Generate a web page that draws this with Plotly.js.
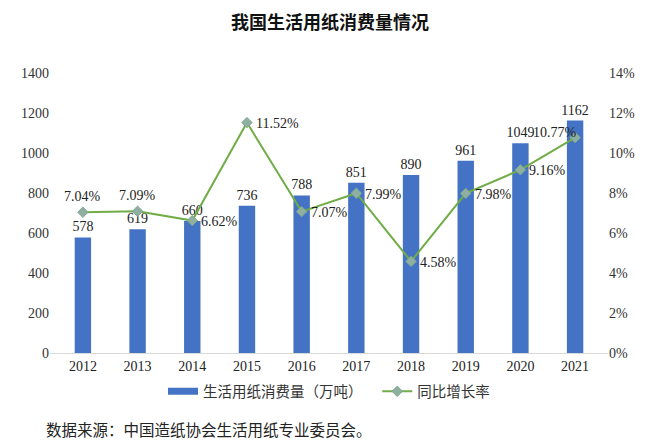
<!DOCTYPE html>
<html><head><meta charset="utf-8">
<script src="https://cdn.plot.ly/plotly-3.0.1.min.js"></script>
<style>html,body{margin:0;padding:0;background:#fff}#c{width:660px;height:448px}</style>
</head><body><div id="c"></div>
<script>
var years = ['2012','2013','2014','2015','2016','2017','2018','2019','2020','2021'];
var consumption = [578, 619, 660, 736, 788, 851, 890, 961, 1049, 1162];
var growth = [0.0704, 0.0709, 0.0662, 0.1152, 0.0707, 0.0799, 0.0458, 0.0798, 0.0916, 0.1077];
var growthLabelPos = ['top','top','right','right','right','right','right','right','right','left'];
var leftTicks = [0,200,400,600,800,1000,1200,1400];
var rightTicks = [0,0.02,0.04,0.06,0.08,0.10,0.12,0.14];

var serif = 'Liberation Serif, Times New Roman, serif';
var cjk = 'Noto Sans CJK SC, sans-serif';

var bars = {
  type:'bar', x: years, y: consumption, name:'生活用纸消费量（万吨）',
  marker:{color:'#4472c4'}, showlegend:false,
  text: consumption.map(String), textposition:'outside', cliponaxis:false, constraintext:'none',
  textfont:{family:serif, size:14, color:'#222'}
};
var barLegend = {
  type:'scatter', mode:'lines', x:[years[0]], y:[null], name:'生活用纸消费量（万吨）\u00a0\u00a0\u00a0',
  line:{color:'#4472c4', width:7}, hoverinfo:'skip'
};
var line = {
  type:'scatter', mode:'lines+markers', x: years, y: growth, yaxis:'y2',
  name:'同比增长率', cliponaxis:false,
  line:{color:'#70ad47', width:2},
  marker:{symbol:'diamond', size:8, color:'#8fb0a0', line:{color:'#7fa890', width:1}}
};
var annots = growth.map(function(v,i){
  var p = growthLabelPos[i];
  var a = {x:i, y:v, xref:'x', yref:'y2', text:(v*100).toFixed(2)+'%', showarrow:false,
           font:{family:serif, size:14, color:'#222'}};
  if(p==='top'){a.xanchor='center'; a.yanchor='bottom'; a.yshift=6;}
  else if(p==='right'){a.xanchor='left'; a.yanchor='middle'; a.xshift=7; a.yshift=-1;}
  else {a.xanchor='right'; a.yanchor='middle'; a.xshift=4; a.yshift=5;}
  return a;
});
annots.push({
  text:'数据来源：中国造纸协会生活用纸专业委员会。', xref:'paper', yref:'paper',
  x:-0.01, xanchor:'left', y:-0.27, yanchor:'middle', showarrow:false,
  font:{family:cjk, size:15.5, color:'#222'}
});
var layout = {
  width:660, height:448,
  margin:{l:50, r:52, t:73, b:95, autoexpand:false},
  paper_bgcolor:'#fff', plot_bgcolor:'#fff',
  title:{text:'<b>我国生活用纸消费量情况</b>', x:0.5, xanchor:'center', y:0.95, yanchor:'middle',
         font:{family:cjk, size:18, color:'#111'}},
  bargap:0.7,
  showlegend:true,
  legend:{orientation:'h', x:0.5, xanchor:'center', y:-0.08, yanchor:'top',
          font:{family:cjk, size:14.5, color:'#333'}, traceorder:'normal', itemwidth:30},
  xaxis:{type:'category', categoryorder:'array', categoryarray:years,
         showline:true, linecolor:'#d9d9d9', linewidth:1, ticks:'',
         tickfont:{family:serif, size:14, color:'#222'}, showgrid:false, automargin:false},
  yaxis:{range:[0,1400], tickvals:leftTicks, showgrid:false, zeroline:false, ticks:'',
         tickfont:{family:serif, size:14, color:'#333'}, automargin:false},
  yaxis2:{range:[0,0.14], tickvals:rightTicks, tickformat:'.0%', overlaying:'y', side:'right',
          showgrid:false, zeroline:false, ticks:'', automargin:false,
          tickfont:{family:serif, size:14, color:'#333'}},
  annotations: annots
};
Plotly.newPlot('c',[bars,barLegend,line],layout,{displayModeBar:false, staticPlot:true});
</script></body></html>
